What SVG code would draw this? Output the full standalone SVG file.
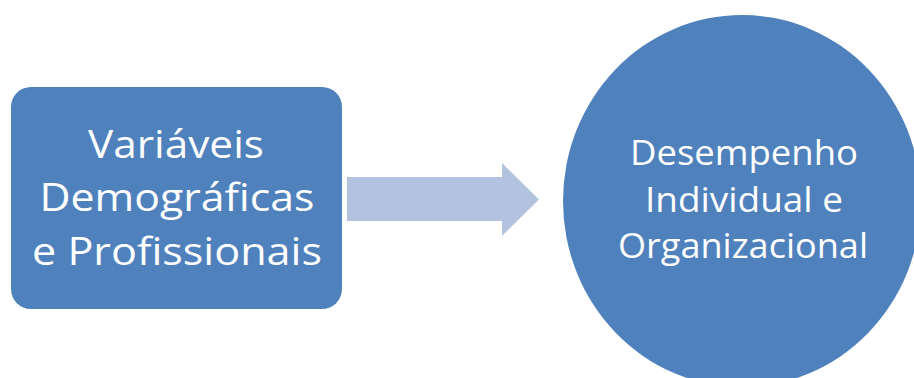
<svg xmlns="http://www.w3.org/2000/svg" width="914" height="378" viewBox="0 0 914 378">
<style>
.node{fill:#4F81BD}
.lbl{fill:#FFFFFF;font-family:"Open Sans","Liberation Sans",sans-serif;text-anchor:middle}
.big{font-size:39px}
.mid{font-size:34px}
.conn{fill:#B3C3DF}
</style>
<rect width="914" height="378" fill="#FFFFFF"/>
<g id="connectors">
<polygon class="conn" points="347,177 502,177 502,163 539,199.5 502,236 502,221 347,221"/>
</g>
<g id="node-variaveis">
<rect class="node" x="11" y="87" width="331" height="222" rx="20" ry="20"/>
<text class="lbl big" x="176" y="158" textLength="176" lengthAdjust="spacingAndGlyphs">Variáveis</text>
<text class="lbl big" x="177" y="211" textLength="275" lengthAdjust="spacingAndGlyphs">Demográficas</text>
<text class="lbl big" x="177" y="265" textLength="290" lengthAdjust="spacingAndGlyphs">e Profissionais</text>
</g>
<g id="node-desempenho">
<ellipse class="node" cx="742" cy="201" rx="179" ry="186"/>
<text class="lbl mid" x="744" y="165" textLength="228" lengthAdjust="spacingAndGlyphs">Desempenho</text>
<text class="lbl mid" x="744" y="212" textLength="198" lengthAdjust="spacingAndGlyphs">Individual e</text>
<text class="lbl mid" x="743" y="258" textLength="250" lengthAdjust="spacingAndGlyphs">Organizacional</text>
</g>
</svg>
